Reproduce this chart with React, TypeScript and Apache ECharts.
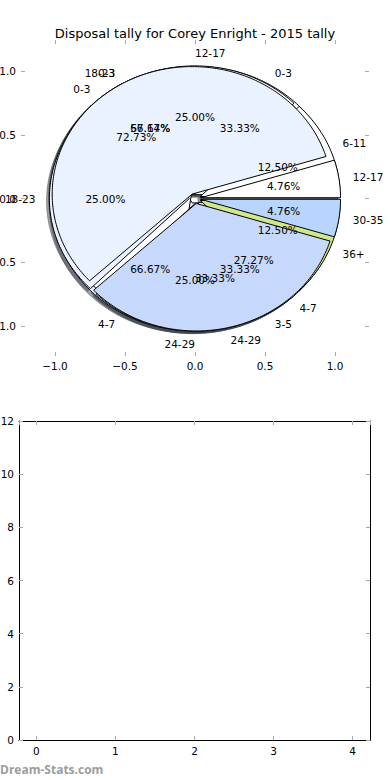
import React, { useEffect, useRef } from "react";
import * as echarts from "echarts";

const TITLE = "Disposal tally for Corey Enright - 2015 tally";
const WATERMARK = "Dream-Stats.com";

// Pies, listed in drawing order (bottom first, top last)
const pieCLabels = ["0-3", "4-7"];
const pieCValues = [1, 2];
const pieDLabels = ["0-3", "3-5"];
const pieDValues = [2, 1];
const pieELabels = ["0-3", "4-7"];
const pieEValues = [8, 3];
const pieALabels = ["6-11", "12-17", "18-23", "24-29", "36+"];
const pieAValues = [1, 2, 2, 2, 1];
const pieBLabels = ["12-17", "18-23", "24-29", "30-35"];
const pieBValues = [1, 12, 7, 1];

// Tick values
const pieTicks = [-1, -0.5, 0, 0.5, 1];
const lowerXTicks = [0, 1, 2, 3, 4];
const lowerYTicks = [0, 2, 4, 6, 8, 10, 12];

const binColors: Record<string, string> = {
  "0-3": "#ffffff",
  "3-5": "#eaf1ff",
  "4-7": "#eaf1ff",
  "6-11": "#ffffff",
  "12-17": "#ffffff",
  "18-23": "#eaf1ff",
  "24-29": "#c6d9fc",
  "30-35": "#b8d5ff",
  "36+": "#d0e88a",
};

const FONT = "DejaVu Sans";
const EXPLODE = 0.04;

function shadowColor(hex: string) {
  const r = parseInt(hex.slice(1, 3), 16);
  const g = parseInt(hex.slice(3, 5), 16);
  const b = parseInt(hex.slice(5, 7), 16);
  return `rgba(${Math.round(r * 0.3)},${Math.round(g * 0.3)},${Math.round(b * 0.3)},0.5)`;
}

function makePie(labels: string[], values: number[], zBase: number) {
  const total = values.reduce((a, b) => a + b, 0);
  const starts: number[] = [];
  let acc = 0;
  for (const v of values) {
    starts.push(acc);
    acc += v;
  }
  return {
    type: "custom",
    coordinateSystem: "cartesian2d",
    xAxisIndex: 0,
    yAxisIndex: 0,
    clip: false,
    silent: true,
    data: values.map((v, i) => [i, v]),
    renderItem: (params: any, api: any) => {
      const i = params.dataIndex;
      const v = api.value(1);
      const a0 = (starts[i] / total) * 2 * Math.PI;
      const a1 = ((starts[i] + v) / total) * 2 * Math.PI;
      const am = (a0 + a1) / 2;
      const cx = EXPLODE * Math.cos(am);
      const cy = EXPLODE * Math.sin(am);
      const n = Math.max(2, Math.ceil((a1 - a0) / (Math.PI / 180)));
      const pts: number[][] = [[cx, cy]];
      for (let k = 0; k <= n; k++) {
        const a = a0 + ((a1 - a0) * k) / n;
        pts.push([cx + Math.cos(a), cy + Math.sin(a)]);
      }
      const px = pts.map((p) => api.coord(p));
      const sh = pts.map((p) => api.coord([p[0] - 0.02, p[1] - 0.02]));
      const color = binColors[labels[i]] || "#ffffff";
      const lx = cx + 1.1 * Math.cos(am);
      const ly = cy + 1.1 * Math.sin(am);
      const lp = api.coord([lx, ly]);
      const pp = api.coord([cx + 0.6 * Math.cos(am), cy + 0.6 * Math.sin(am)]);
      const pct = ((v / total) * 100).toFixed(2) + "%";
      return {
        type: "group",
        children: [
          {
            type: "polygon",
            z2: 0,
            shape: { points: sh },
            style: { fill: shadowColor(color), stroke: shadowColor(color), lineWidth: 1 },
          },
          {
            type: "polygon",
            z2: zBase,
            shape: { points: px },
            style: { fill: color, stroke: "#000", lineWidth: 1, lineJoin: "miter" },
          },
          {
            type: "text",
            z2: 100,
            x: lp[0],
            y: lp[1],
            style: {
              text: labels[i],
              fill: "#000",
              fontSize: 10.5,
              fontFamily: FONT,
              align: lx > 0 ? "left" : "right",
              verticalAlign: "middle",
            },
          },
          {
            type: "text",
            z2: 100,
            x: pp[0],
            y: pp[1],
            style: {
              text: pct,
              fill: "#000",
              fontSize: 10.5,
              fontFamily: FONT,
              align: "center",
              verticalAlign: "middle",
            },
          },
        ],
      };
    },
  };
}

const fmtTick = (v: number) => v.toFixed(1).replace("-", "\u2212");

const tickStyle = { show: true, inside: true, length: 4, lineStyle: { color: "#a8a8a8", width: 1 } };
const labelStyle = { color: "#000", fontSize: 10.5, fontFamily: FONT };
const hiddenLine = { show: false, onZero: false };
const frameLine = { show: true, onZero: false, lineStyle: { color: "#000", width: 1 } };

export default function App() {
  const ref = useRef<HTMLDivElement>(null);
  useEffect(() => {
    if (!ref.current) return;
    const chart = echarts.init(ref.current, undefined, { renderer: "svg" });
    const pieAxis = {
      type: "value",
      gridIndex: 0,
      min: pieTicks[0],
      max: pieTicks[pieTicks.length - 1],
      interval: 0.5,
      axisLine: hiddenLine,
      splitLine: { show: false },
      axisTick: tickStyle,
    };
    const lowX = {
      type: "value",
      gridIndex: 1,
      min: -0.22,
      max: 4.22,
      axisLine: frameLine,
      splitLine: { show: false },
      axisTick: tickStyle,
    };
    const lowY = {
      type: "value",
      gridIndex: 1,
      min: lowerYTicks[0],
      max: lowerYTicks[lowerYTicks.length - 1],
      interval: 2,
      axisLine: frameLine,
      splitLine: { show: false },
      axisTick: tickStyle,
    };
    chart.setOption({
      animation: false,
      backgroundColor: "#ffffff",
      title: {
        text: TITLE,
        left: "center",
        top: 22,
        textStyle: { fontSize: 13, fontWeight: "normal", fontFamily: FONT, color: "#000" },
      },
      grid: [
        { left: 55, right: 55, top: 71, bottom: 454, containLabel: false, outerBoundsMode: "none" },
        { left: 19, right: 20, top: 421, bottom: 40, containLabel: false, outerBoundsMode: "none" },
      ],
      xAxis: [
        { ...pieAxis, position: "bottom", offset: 30, axisLabel: { ...labelStyle, margin: 4, formatter: fmtTick } },
        { ...pieAxis, position: "top", offset: 31, axisLabel: { show: false } },
        {
          ...lowX,
          position: "bottom",
          axisLabel: {
            ...labelStyle,
            margin: 5,
            showMinLabel: false,
            showMaxLabel: false,
            formatter: (v: number) => (lowerXTicks.includes(v) ? String(v) : ""),
          },
        },
        { ...lowX, position: "top", axisLabel: { show: false } },
      ],
      yAxis: [
        { ...pieAxis, position: "left", offset: 34, axisLabel: { ...labelStyle, margin: 5, formatter: fmtTick } },
        { ...pieAxis, position: "right", offset: 34, axisLabel: { show: false } },
        { ...lowY, position: "left", axisLabel: { ...labelStyle, margin: 5 } },
        { ...lowY, position: "right", axisLabel: { show: false } },
      ],
      graphic: [
        {
          type: "text",
          left: 0,
          top: 763,
          style: {
            text: WATERMARK,
            fill: "#9c9c9c",
            fontSize: 12,
            fontWeight: "bold",
            fontFamily: "Open Sans",
          },
        },
      ],
      series: [
        makePie(pieCLabels, pieCValues, 1),
        makePie(pieDLabels, pieDValues, 2),
        makePie(pieELabels, pieEValues, 3),
        makePie(pieALabels, pieAValues, 4),
        makePie(pieBLabels, pieBValues, 5),
        { type: "line", xAxisIndex: 2, yAxisIndex: 2, data: [], silent: true },
      ],
    });
    return () => chart.dispose();
  }, []);
  return (
    <div
      ref={ref}
      style={{ position: "absolute", left: 0, top: 0, width: 390, height: 780, background: "#fff" }}
    />
  );
}
